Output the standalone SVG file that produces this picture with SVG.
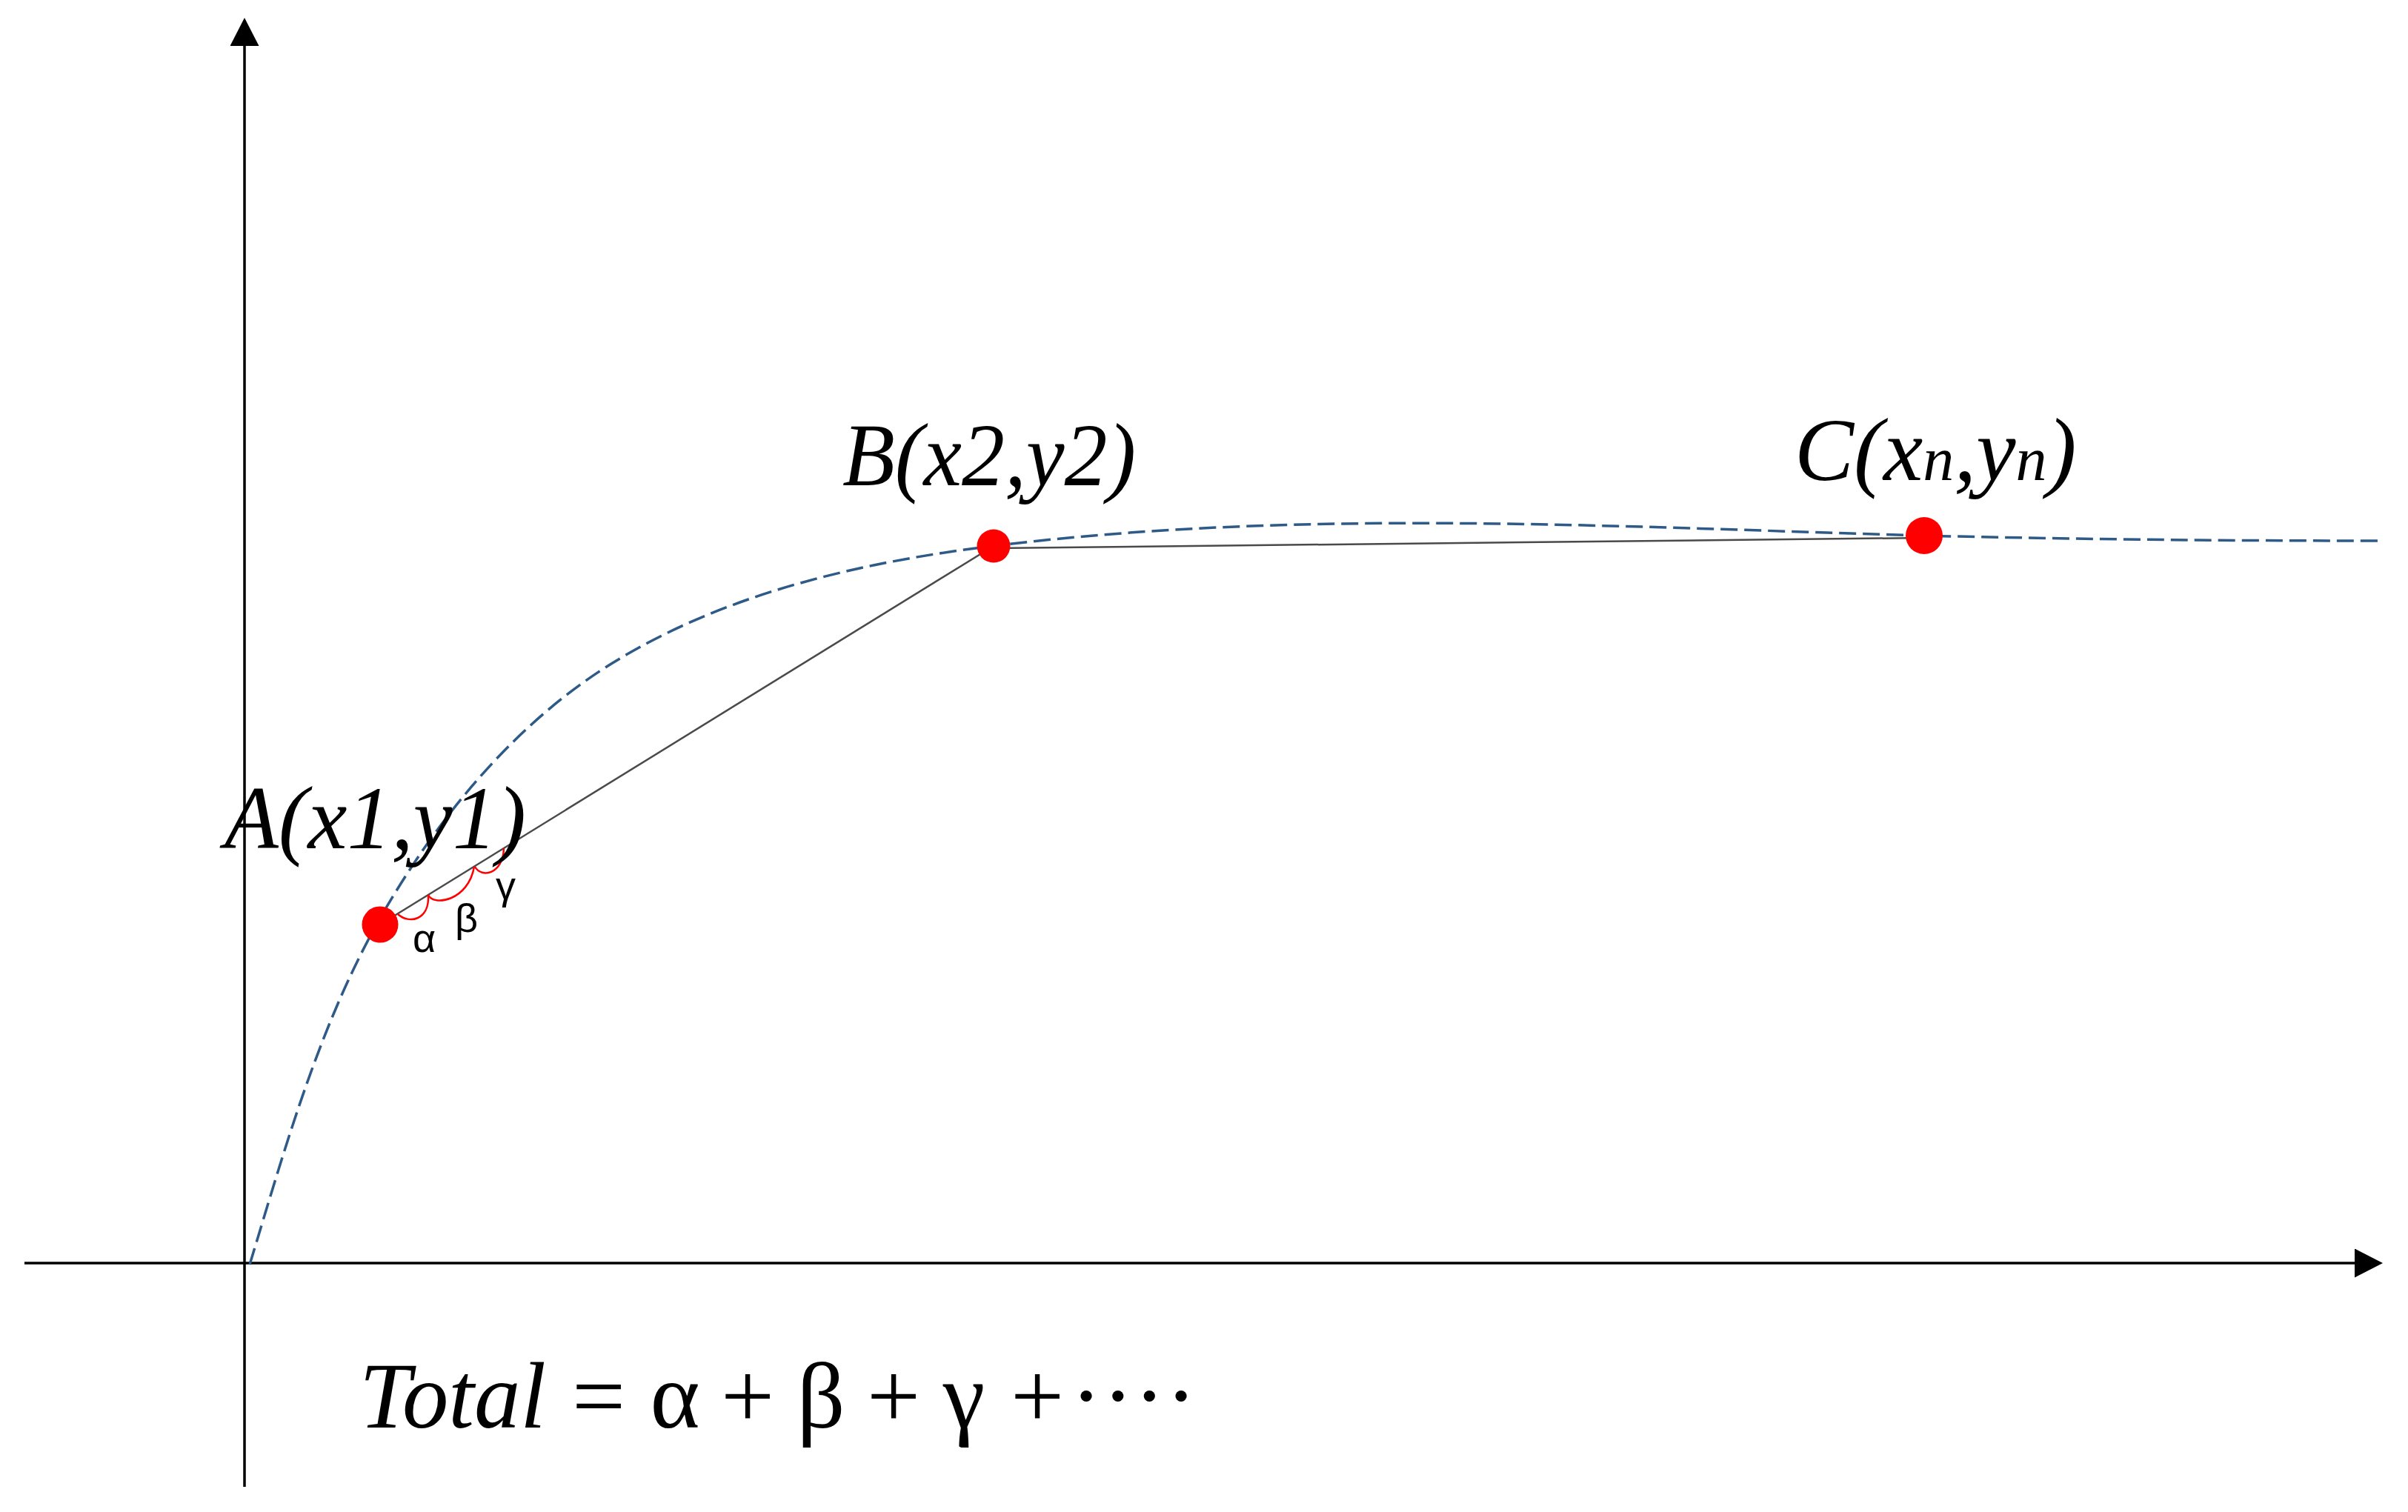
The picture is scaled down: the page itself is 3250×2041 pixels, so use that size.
<svg xmlns="http://www.w3.org/2000/svg" width="3250" height="2041" viewBox="0 0 3250 2041">
  <style>
    .axis { stroke: #000; stroke-width: 3.5; fill: none; }
    .curve { stroke: #2E5A88; stroke-width: 3.5; fill: none; stroke-dasharray: 23 9; }
    .chord { stroke: #4a4a4a; stroke-width: 2.5; fill: none; }
    .arc { stroke: #FF0000; stroke-width: 2.5; fill: none; }
    .pt { fill: #FF0000; }
    .lbl { font-family: "Liberation Serif", "DejaVu Serif", serif; font-style: italic; font-size: 120px; fill: #000; }
    .greek { font-family: "Liberation Sans", "DejaVu Sans", sans-serif; font-size: 54px; fill: #000; }
    .eq { font-family: "Liberation Serif", "DejaVu Serif", serif; font-size: 128px; fill: #000; }
  </style>
  <defs>
    <marker id="arrow" markerUnits="userSpaceOnUse" markerWidth="38" markerHeight="39" viewBox="0 0 38 39" refX="0" refY="19.5" orient="auto">
      <path d="M0,0 L38,19.5 L0,39 Z" fill="#000"/>
    </marker>
  </defs>
  <rect width="3250" height="2041" fill="#fff"/>

  <g id="axes">
    <line class="axis" x1="330" y1="2007" x2="330" y2="62" marker-end="url(#arrow)"/>
    <line class="axis" x1="33" y1="1705" x2="3178" y2="1705" marker-end="url(#arrow)"/>
  </g>

  <g id="connectors">
    <path id="curve" class="curve" d="M337,1707 C385,1549 430,1387 511,1243 C588,1107 693,978 825,896 C978,801 1161,759 1340,737 C1755,686 2176,711 2594,723 C2800,728 3000,730 3214,730"/>
    <line id="chord-AB" class="chord" x1="513" y1="1248" x2="1341" y2="737"/>
    <line id="chord-BC" class="chord" x1="1341" y1="740" x2="2597" y2="726"/>
  </g>

  <g id="angles">
    <path class="arc" d="M537,1234 C552,1248 580,1242 578,1208"/>
    <path class="arc" d="M578,1208 C585,1224 632,1216 640,1170"/>
    <path class="arc" d="M641,1170 C650,1186 679,1180 680,1145"/>
    <text class="greek" x="557" y="1285">α</text>
    <text class="greek" x="614" y="1258">β</text>
    <text class="greek" x="669" y="1214">γ</text>
  </g>

  <g id="node-A">
    <circle class="pt" cx="513" cy="1248" r="24.5"/>
    <text class="lbl" x="303" y="1145" textLength="407" lengthAdjust="spacingAndGlyphs">A(x1,y1)</text>
  </g>

  <g id="node-B">
    <circle class="pt" cx="1341" cy="737" r="22.5"/>
    <text class="lbl" x="1137" y="655" textLength="396" lengthAdjust="spacingAndGlyphs">B(x2,y2)</text>
  </g>

  <g id="node-C">
    <circle class="pt" cx="2597" cy="723" r="25"/>
    <text class="lbl" x="2422" y="648" font-size="114">C(x<tspan font-size="84">n</tspan>,y<tspan font-size="84">n</tspan>)</text>
  </g>

  <g id="formula">
    <text class="eq" x="485" y="1927" font-style="italic" textLength="252" lengthAdjust="spacingAndGlyphs">Total</text>
    <text class="eq" x="808" y="1927" text-anchor="middle">=</text>
    <text class="eq" x="911" y="1927" text-anchor="middle">α</text>
    <text class="eq" x="1009" y="1927" text-anchor="middle">+</text>
    <text class="eq" x="1108" y="1927" text-anchor="middle">β</text>
    <text class="eq" x="1206" y="1927" text-anchor="middle">+</text>
    <text class="eq" x="1301" y="1927" text-anchor="middle">γ</text>
    <text class="eq" x="1400" y="1927" text-anchor="middle">+</text>
    <text class="eq" x="1530" y="1927" text-anchor="middle">····</text>
  </g>
</svg>
